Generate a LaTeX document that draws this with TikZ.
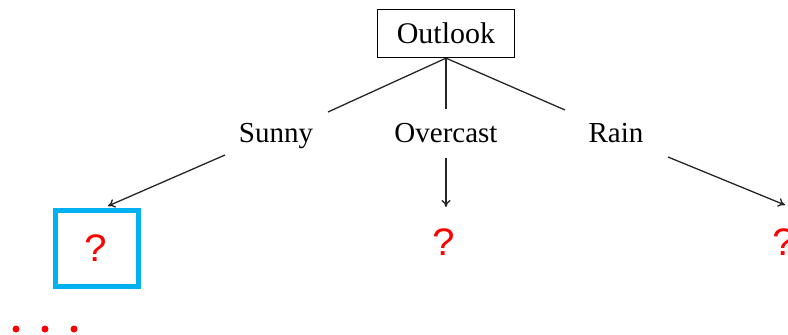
\documentclass[tikz,border=0pt]{standalone}
\usepackage{fontspec}
\setmainfont{Liberation Serif}
\newfontfamily\qfont{Liberation Mono}
\usetikzlibrary{arrows.meta}
\definecolor{qblue}{RGB}{0,176,240}
\begin{document}
\begin{tikzpicture}[x=1pt,y=-1pt,
  lbl/.style={font=\fontsize{29}{32}\selectfont, inner sep=0pt, anchor=base},
  qmark/.style={font=\qfont\fontsize{40}{44}\selectfont, text=red, inner sep=0pt},
  edge/.style={line width=1.3pt, black!85},
  arr/.style={edge, -{To[length=7pt,width=9pt]}},
  dot/.style={circle, fill=red, inner sep=0pt, minimum size=7pt}]
\useasboundingbox (0,0) rectangle (788,335);
\node[draw, line width=1.3pt, minimum width=137pt, minimum height=48pt, inner sep=0pt,
      font=\fontsize{30}{32}\selectfont] (outlook) at (446,33.5) {Outlook};
\node[lbl] (sunny) at (276,142) {Sunny};
\node[lbl] (overcast) at (446,142) {Overcast};
\node[lbl] (rain) at (616,142) {Rain};
\coordinate (sl) at (328,112);
\coordinate (ol) at (446,109);
\coordinate (rl) at (565,110);
\draw[edge] (outlook.south) -- (sl);
\draw[edge] (outlook.south) -- (ol);
\draw[edge] (outlook.south) -- (rl);
\node[draw=qblue, line width=5pt, minimum width=83pt, minimum height=76pt, inner sep=0pt] (qbox) at (97,248.5) {};
\node[qmark] (q1) at (qbox.center) {?};
\node[qmark] (q2) at (444,242) {?};
\node[qmark] (q3) at (784,242) {?};
\coordinate (s1) at (225,155);
\coordinate (s2) at (108,206);
\coordinate (o1) at (446,158);
\coordinate (o2) at (446,207);
\coordinate (r1) at (668,157);
\coordinate (r2) at (785,205);
\draw[arr] (s1) -- (s2);
\draw[arr] (o1) -- (o2);
\draw[arr] (r1) -- (r2);
\node[dot] (d1) at (16,329) {};
\node[dot] (d2) at (45,329) {};
\node[dot] (d3) at (74,329) {};
\end{tikzpicture}
\end{document}
